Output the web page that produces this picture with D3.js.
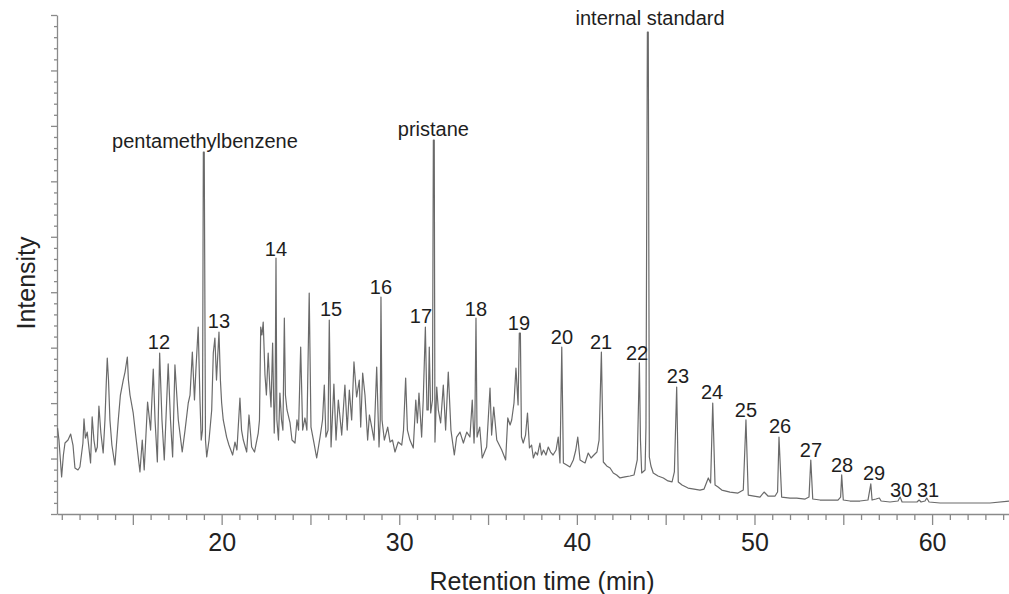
<!DOCTYPE html>
<html>
<head>
<meta charset="utf-8">
<script src="https://cdn.jsdelivr.net/npm/d3@7"></script>
<style>
  body { margin: 0; background: #fff; }
  svg { display: block; font-family: "Liberation Sans", Arial, Helvetica, sans-serif; }
  .chart__line { fill: none; stroke: #6a6a6a; stroke-width: 1.2; stroke-linejoin: round; }
  .chart__axis path, .chart__axis line { stroke: #8a8a8a; stroke-width: 1.3; }
  .chart__axis text { fill: #222; font-size: 25px; }
  .chart__title { fill: #222; font-size: 25px; }
  .chart__peak-label { fill: #1e1e1e; font-size: 20px; }
</style>
</head>
<body>
<svg id="chart" width="1009" height="594"></svg>
<script>
// retention time (min) and detector intensity (arbitrary units)
var retentionTime = [
  10.76, 10.84, 10.99, 11.09, 11.18, 11.35, 11.50, 11.63, 11.74, 11.91, 12.02, 12.19, 12.25, 12.33, 12.43,
  12.62, 12.71, 12.81, 12.91, 13.00, 13.09, 13.20, 13.33, 13.43, 13.51, 13.56, 13.63, 13.71, 13.82, 13.99,
  14.18, 14.30, 14.46, 14.56, 14.69, 14.75, 14.84, 15.02, 15.16, 15.29, 15.40, 15.53, 15.64, 15.83, 16.00,
  16.15, 16.25, 16.38, 16.51, 16.64, 16.77, 16.99, 17.12, 17.24, 17.37, 17.56, 17.78, 17.94, 18.12, 18.22,
  18.35, 18.47, 18.55, 18.68, 18.78, 18.85, 18.92, 18.97, 19.02, 19.09, 19.16,
  19.29, 19.44, 19.53, 19.62, 19.71, 19.85, 19.93, 20.00, 20.09, 20.28, 20.41, 20.62, 20.75, 20.86, 21.03,
  21.12, 21.22, 21.41, 21.54, 21.69, 21.85, 22.06, 22.13, 22.20, 22.27, 22.34, 22.44, 22.52, 22.62, 22.72,
  22.78, 22.87, 22.96, 23.01, 23.06, 23.11, 23.20, 23.28, 23.37, 23.45, 23.53, 23.59, 23.68, 23.85, 23.96,
  24.13, 24.24, 24.33, 24.45, 24.56, 24.69, 24.80, 24.93, 25.03, 25.20, 25.35, 25.54, 25.68, 25.78, 25.87,
  25.99, 26.06, 26.16, 26.32, 26.44, 26.57, 26.76, 26.94, 27.07, 27.19, 27.32, 27.45, 27.60, 27.75, 27.83,
  27.94, 28.07, 28.22,
  28.32, 28.45, 28.58, 28.73, 28.86, 28.93, 28.97, 29.03, 29.16, 29.35, 29.48, 29.62, 29.76, 29.94, 30.14,
  30.24, 30.36, 30.46, 30.60, 30.79, 30.93, 31.02, 31.11, 31.26, 31.35, 31.47, 31.56, 31.63, 31.69, 31.77,
  31.87, 31.92, 31.97, 32.01, 32.11, 32.20, 32.33, 32.48, 32.61, 32.76, 32.91, 33.10, 33.23, 33.42, 33.61,
  33.80, 33.98, 34.11, 34.21, 34.26, 34.32, 34.38, 34.53, 34.67, 34.92, 35.11, 35.20, 35.32, 35.49, 35.77,
  35.99, 36.11, 36.24, 36.33, 36.46, 36.57, 36.69, 36.76, 36.82, 36.88,
  36.98, 37.11, 37.22, 37.33, 37.45, 37.55, 37.67, 37.78, 37.92, 38.01, 38.12, 38.26, 38.39, 38.52, 38.66,
  38.83, 38.95, 39.05, 39.15, 39.24, 39.43, 39.61, 39.80, 39.94, 40.05, 40.18, 40.36, 40.46, 40.64, 40.80,
  40.96, 41.13, 41.25, 41.38, 41.49, 41.68, 41.87, 42.05, 42.24, 42.43, 42.71, 42.99, 43.22, 43.40, 43.52,
  43.58, 43.65, 43.84, 43.89, 43.97, 44.02, 44.08, 44.17, 44.30, 44.57, 44.87, 45.13, 45.36, 45.49, 45.62,
  45.71, 45.92, 46.26, 46.60, 46.93,
  47.16, 47.40, 47.53, 47.65, 47.78, 47.95, 48.16, 48.62, 49.07, 49.37, 49.52, 49.65, 49.97, 50.31, 50.54,
  50.76, 51.16, 51.30, 51.38, 51.53, 52.00, 52.38, 52.85, 53.07, 53.17, 53.28, 53.69, 54.25, 54.70, 54.85,
  54.91, 55.00, 55.38, 55.94, 56.39, 56.55, 56.62, 56.84, 57.03, 57.13, 57.63, 58.08, 58.20, 58.31, 58.76,
  59.15, 59.27, 59.38, 59.60, 59.70, 59.83, 60.45, 61.39, 62.42, 63.26, 64.33
]
var intensity = [
  77.5, 66.7, 33.4, 53.2, 64.0, 66.7, 72.1, 62.2, 41.5, 39.7, 42.4, 64.0, 85.7, 68.5, 73.9,
  46.0, 87.5, 66.7, 55.9, 60.4, 97.4, 73.0, 55.0, 84.8, 120.8, 140.7, 120.8, 84.8, 62.2, 44.2,
  84.8, 107.3, 120.8, 128.0, 141.6, 120.8, 107.3, 91.1, 71.2, 53.2, 37.9, 66.7, 39.7, 101.0, 75.7,
  130.7, 84.8, 46.9, 145.2, 84.8, 48.7, 135.3, 84.8, 51.4, 134.4, 84.8, 55.9, 75.7, 100.1, 107.3,
  146.1, 102.8, 129.8, 168.6, 102.8, 66.7, 75.7, 326.4, 326.4, 66.7, 51.4,
  66.7, 93.8, 145.2, 158.7, 120.8, 164.1, 120.8, 100.1, 84.8, 69.4, 62.2, 53.2, 64.9, 57.7, 104.6,
  75.7, 66.7, 55.9, 89.3, 60.4, 55.9, 73.0, 84.8, 168.6, 161.4, 173.1, 125.3, 107.3, 145.2, 111.8,
  96.5, 154.2, 73.0, 102.8, 230.8, 84.8, 66.7, 109.1, 84.8, 75.7, 176.7, 107.3, 93.8, 82.1, 66.7,
  64.0, 84.8, 75.7, 150.6, 75.7, 86.6, 75.7, 199.3, 78.4, 64.0, 50.5, 69.4, 84.8, 116.3, 69.4,
  75.7, 174.9, 60.4, 117.2, 66.7, 102.8, 71.2, 116.3, 75.7, 111.8, 84.8, 137.1, 105.5, 120.8, 78.4,
  127.1, 107.3, 66.7,
  89.3, 78.4, 66.7, 132.5, 60.4, 84.8, 195.7, 84.8, 66.7, 78.4, 64.9, 66.7, 55.9, 64.9, 62.2,
  75.7, 122.6, 75.7, 66.7, 59.5, 102.8, 82.1, 109.1, 69.4, 102.8, 168.6, 93.8, 93.8, 150.6, 91.1,
  102.8, 337.2, 337.2, 64.9, 114.5, 93.8, 82.1, 116.3, 75.7, 128.0, 75.7, 53.2, 69.4, 73.9, 64.0,
  73.9, 69.4, 102.8, 64.0, 84.8, 176.7, 69.4, 78.4, 50.5, 60.4, 113.6, 71.2, 96.5, 66.7, 57.7,
  48.7, 86.6, 80.3, 84.8, 100.1, 131.6, 98.3, 163.2, 163.2, 69.4,
  64.0, 71.2, 91.1, 59.5, 62.2, 50.5, 55.9, 53.2, 64.0, 53.2, 57.7, 53.2, 60.4, 55.9, 53.2,
  57.7, 69.4, 46.0, 150.6, 46.0, 44.2, 42.4, 48.7, 57.7, 69.4, 48.7, 46.9, 46.0, 55.0, 50.5,
  53.2, 55.9, 66.7, 146.1, 46.9, 43.3, 41.5, 37.0, 35.2, 32.5, 33.4, 34.3, 35.2, 48.7, 136.2,
  66.7, 37.0, 39.7, 78.4, 434.6, 434.6, 51.4, 43.3, 37.0, 34.3, 32.5, 29.8, 28.9, 37.9, 114.5,
  28.9, 26.1, 23.4, 22.5, 21.6,
  22.5, 32.5, 28.0, 100.1, 26.1, 24.3, 21.6, 19.8, 18.9, 21.6, 84.8, 17.1, 16.2, 15.3, 19.8,
  16.2, 16.2, 19.8, 69.4, 15.3, 14.4, 14.4, 13.5, 15.3, 48.7, 13.5, 12.6, 12.6, 12.6, 15.3,
  35.2, 12.6, 11.7, 11.7, 12.6, 27.1, 12.6, 13.5, 14.4, 11.7, 10.8, 11.7, 15.3, 10.8, 10.8,
  10.8, 12.6, 10.8, 11.7, 14.4, 10.8, 9.9, 9.9, 9.9, 9.9, 11.7
]

// peak annotations: text, time of label centre, intensity of label baseline
var peakNames = ["pentamethylbenzene", "pristane", "internal standard",
  "12", "13", "14", "15", "16", "17", "18", "19", "20", "21",
  "22", "23", "24", "25", "26", "27", "28", "29", "30", "31"]
var peakLabelTime = [19.06, 31.92, 44.12,
  16.47, 19.85, 23.06, 26.16, 28.97, 31.22, 34.32, 36.74, 39.16, 41.36,
  43.39, 45.69, 47.61, 49.52, 51.44, 53.18, 54.93, 56.73, 58.25, 59.77]
var peakLabelIntensity = [330.0, 340.8, 440.9,
  148.8, 167.7, 232.6, 178.5, 198.4, 172.2, 178.5, 165.9, 153.3, 148.8,
  138.9, 118.1, 103.7, 87.5, 73.0, 51.4, 37.9, 30.7, 15.3, 15.3]

var xLabelTicks = [20, 30, 40, 50, 60]
var xDomain = [10.73, 64.33]
var yDomain = [0, 450]

function Chromatogram(svg) {
  var margin = { top: 15, right: 0, bottom: 80, left: 57 }
  var width = +svg.attr("width") - margin.left - margin.right
  var height = +svg.attr("height") - margin.top - margin.bottom

  var x = d3.scaleLinear().domain(xDomain).range([0, width])
  var y = d3.scaleLinear().domain(yDomain).range([height, 0])

  var root = svg.append("g")
    .attr("transform", "translate(" + margin.left + "," + margin.top + ")")

  var points = retentionTime.map(function (t, i) { return { x: t, y: intensity[i] } })

  // minute ticks, longer every 5 min, numbers every 10
  var minuteTicks = d3.range(11, 65)
  var xAxis = d3.axisBottom(x)
    .tickValues(minuteTicks)
    .tickSizeOuter(0)
    .tickFormat(function (d) { return xLabelTicks.indexOf(d) >= 0 ? d : "" })

  var xg = root.append("g")
    .attr("class", "chart__axis chart__axis--x")
    .attr("transform", "translate(0," + height + ")")
    .call(xAxis)
  xg.selectAll(".tick line")
    .attr("y2", function (d) { return d % 5 === 0 ? 11 : 6 })
  xg.selectAll(".tick text").attr("y", 19)

  var yAxis = d3.axisLeft(y)
    .tickValues(d3.range(0, 451, 10))
    .tickSizeOuter(0)
    .tickFormat("")
  var yg = root.append("g")
    .attr("class", "chart__axis chart__axis--y")
    .call(yAxis)
  yg.selectAll(".tick line")
    .attr("x2", function (d) { return d % 50 === 0 ? -6 : -3 })
    .attr("stroke-width", 1)

  var line = d3.line()
    .x(function (d) { return x(d.x) })
    .y(function (d) { return y(d.y) })

  root.append("path")
    .datum(points)
    .attr("class", "chart__line")
    .attr("d", line)

  root.append("g").selectAll("text")
    .data(peakNames)
    .enter()
    .append("text")
    .attr("class", "chart__peak-label")
    .attr("text-anchor", "middle")
    .attr("x", function (d, i) { return x(peakLabelTime[i]) })
    .attr("y", function (d, i) { return y(peakLabelIntensity[i]) })
    .text(function (d) { return d })

  // axis titles
  svg.append("text")
    .attr("class", "chart__title")
    .attr("text-anchor", "middle")
    .attr("x", 542)
    .attr("y", 590)
    .text("Retention time (min)")

  svg.append("text")
    .attr("class", "chart__title")
    .attr("text-anchor", "middle")
    .attr("transform", "translate(35,283) rotate(-90)")
    .text("Intensity")
}

Chromatogram(d3.select("#chart"))
</script>
</body>
</html>
